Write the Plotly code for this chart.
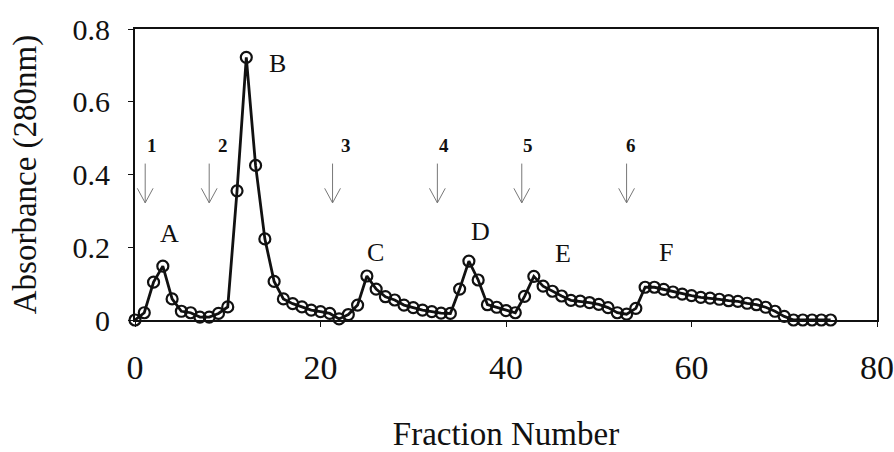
import plotly.graph_objects as go

fractions = list(range(0, 76))
absorbance = [
    0.0, 0.02, 0.104, 0.148, 0.058, 0.024, 0.02, 0.008, 0.008, 0.018,
    0.036, 0.355, 0.722, 0.425, 0.223, 0.106, 0.058, 0.045, 0.036, 0.027,
    0.023, 0.018, 0.003, 0.015, 0.041, 0.121, 0.085, 0.064, 0.055, 0.041,
    0.034, 0.027, 0.023, 0.019, 0.018, 0.085, 0.162, 0.11, 0.042, 0.035,
    0.026, 0.02, 0.065, 0.12, 0.093, 0.079, 0.066, 0.054, 0.052, 0.048,
    0.043, 0.034, 0.02, 0.016, 0.032, 0.09, 0.09, 0.084, 0.077, 0.071,
    0.067, 0.062, 0.06, 0.057, 0.053, 0.051, 0.046, 0.042, 0.035, 0.024,
    0.01, 0.0, 0.0, 0.0, 0.0, 0.0,
]

peak_labels = ["A", "B", "C", "D", "E", "F"]
peak_x = [3.7, 15.4, 25.9, 37.3, 46.1, 57.2]
peak_y = [0.238, 0.705, 0.185, 0.242, 0.183, 0.185]

step_labels = ["1", "2", "3", "4", "5", "6"]
step_label_x = [1.8, 9.5, 22.7, 33.3, 42.4, 53.5]
step_label_y = 0.48
arrow_x = [1.1, 8.0, 21.3, 32.6, 41.7, 53.0]
arrow_top = 0.43
arrow_tip = 0.322

x_ticks = [0, 20, 40, 60, 80]
y_ticks = [0, 0.2, 0.4, 0.6, 0.8]
y_tick_text = ["0", "0.2", "0.4", "0.6", "0.8"]

FONT = "Liberation Serif, Times New Roman, serif"
INK = "#111111"

fig = go.Figure()
fig.add_trace(go.Scatter(
    x=fractions, y=absorbance, mode="lines+markers",
    line=dict(color=INK, width=2.8),
    marker=dict(symbol="circle-open", size=11, color=INK, line=dict(width=2.2, color=INK)),
    cliponaxis=False, showlegend=False,
))

shapes = []
dx = 0.85
dy = 0.04
for xa in arrow_x:
    line_style = dict(color="#777777", width=1)
    shapes.append(dict(type="line", xref="x", yref="y", x0=xa, x1=xa, y0=arrow_top, y1=arrow_tip, line=line_style))
    shapes.append(dict(type="line", xref="x", yref="y", x0=xa - dx, x1=xa, y0=arrow_tip + dy, y1=arrow_tip, line=line_style))
    shapes.append(dict(type="line", xref="x", yref="y", x0=xa + dx, x1=xa, y0=arrow_tip + dy, y1=arrow_tip, line=line_style))

annotations = []
for t, xx, yy in zip(peak_labels, peak_x, peak_y):
    annotations.append(dict(x=xx, y=yy, xref="x", yref="y", text=t, showarrow=False,
                            font=dict(family=FONT, size=26, color=INK)))
for t, xx in zip(step_labels, step_label_x):
    annotations.append(dict(x=xx, y=step_label_y, xref="x", yref="y", text="<b>" + t + "</b>", showarrow=False,
                            font=dict(family=FONT, size=19, color=INK)))

fig.update_layout(
    width=894, height=452,
    margin=dict(l=135, r=17, t=29, b=132),
    paper_bgcolor="white", plot_bgcolor="white",
    font=dict(family=FONT, size=32, color=INK),
    shapes=shapes, annotations=annotations,
    xaxis=dict(
        range=[0, 80], tickvals=x_ticks, ticks="outside", ticklen=5, tickwidth=1, tickcolor=INK,
        showline=True, linecolor=INK, linewidth=2, mirror=True, showgrid=False, zeroline=False,
        tickfont=dict(family=FONT, size=34, color=INK), ticklabelstandoff=11, automargin=False,
        title=dict(text="Fraction Number", font=dict(family=FONT, size=33, color=INK), standoff=40),
    ),
    yaxis=dict(
        range=[0, 0.8], tickvals=y_ticks, ticktext=y_tick_text, ticks="outside", ticklen=5, tickwidth=1, tickcolor=INK,
        showline=True, linecolor=INK, linewidth=2, mirror=True, showgrid=False, zeroline=False,
        tickfont=dict(family=FONT, size=30, color=INK), ticklabelstandoff=12, automargin=False,
        title=dict(text="Absorbance (280nm)", font=dict(family=FONT, size=33, color=INK), standoff=26),
    ),
)

fig.write_html("out.html", config={"displayModeBar": False},
               post_script="document.body.style.margin='0';")
